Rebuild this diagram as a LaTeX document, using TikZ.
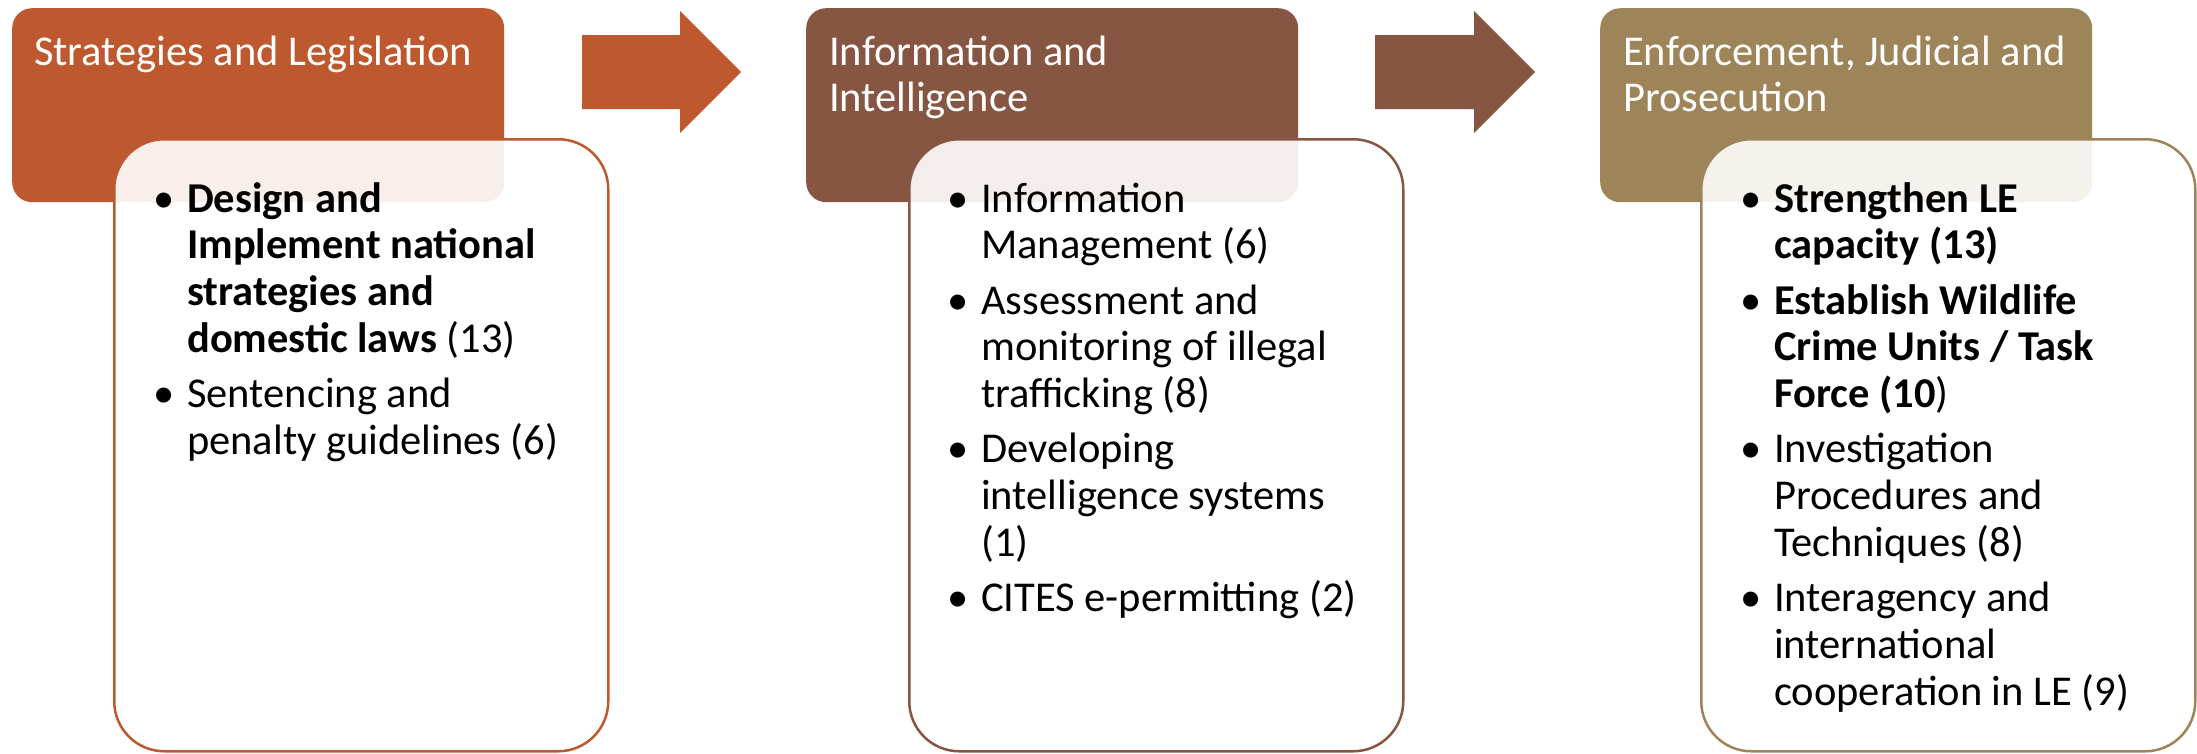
\documentclass[tikz,border=0pt]{standalone}
\usepackage{fontspec}
\setmainfont{Carlito}
\definecolor{cA}{RGB}{190,88,46}
\definecolor{cB}{RGB}{135,86,66}
\definecolor{cC}{RGB}{157,132,89}
\newcommand{\bul}{\llap{\makebox[34pt][l]{\textbullet}}}
\newcommand{\lines}[1]{\begin{tabular}[t]{@{}l@{}}#1\end{tabular}}
\tikzset{
  hdrbox/.style={draw=none, rounded corners=20pt, anchor=north west, minimum width=492pt, minimum height=194pt, inner sep=0pt},
  bodybox/.style={rounded corners=50pt, line width=2.5pt, fill=white, fill opacity=0.9, anchor=north west, minimum width=494pt, minimum height=612pt, inner sep=0pt},
  hdrtext/.style={anchor=base west, text=white, inner sep=0pt, font=\fontsize{42.5}{46.7}\selectfont},
  bodytext/.style={anchor=base west, text=black, inner sep=0pt, font=\fontsize{42.5}{46.7}\selectfont}
}
\begin{document}
\begin{tikzpicture}[x=1pt,y=-1pt]
\useasboundingbox (0,0) rectangle (2197,753);
% headers
\node[hdrbox, fill=cA] (h1) at (12,8) {};
\node[hdrbox, fill=cB] (h2) at (806,8) {};
\node[hdrbox, fill=cC] (h3) at (1600,8) {};
% arrows
\fill[cA] (582,35) -- (680,35) -- (680,11) -- (741,72) -- (680,133) -- (680,109) -- (582,109) -- cycle;
\fill[cB] (1375,35) -- (1474,35) -- (1474,11) -- (1535,72) -- (1474,133) -- (1474,109) -- (1375,109) -- cycle;
% header texts
\node[hdrtext] (t1) at (34,65) {\lines{Strategies and Legislation}};
\node[hdrtext] (t2) at (829,65) {\lines{Information and\\Intelligence}};
\node[hdrtext] (t3) at (1623,65) {\lines{Enforcement, Judicial and\\Prosecution}};
% bodies
\node[bodybox, draw=cA] (b1) at (113,138) {};
\node[bodybox, draw=cB] (b2) at (908,138) {};
\node[bodybox, draw=cC] (b3) at (1700,138) {};
% body texts
\node[bodytext] (l1) at (187,212) {\lines{\bul\textbf{Design and}\\\textbf{Implement national}\\\textbf{strategies and}\\\textbf{domestic laws} (13)\\[8.7pt]\bul Sentencing and\\penalty guidelines (6)}};
\node[bodytext] (l2) at (981,212) {\lines{\bul Information\\Management (6)\\[8.7pt]\bul Assessment and\\monitoring of illegal\\trafficking (8)\\[8.7pt]\bul Developing\\intelligence systems\\(1)\\[8.7pt]\bul CITES e-permitting (2)}};
\node[bodytext] (l3) at (1774,212) {\lines{\bul\textbf{Strengthen LE}\\\textbf{capacity (13)}\\[8.7pt]\bul\textbf{Establish Wildlife}\\\textbf{Crime Units / Task}\\\textbf{Force (10})\\[8.7pt]\bul Investigation\\Procedures and\\Techniques (8)\\[8.7pt]\bul Interagency and\\international\\cooperation in LE (9)}};
\end{tikzpicture}
\end{document}
